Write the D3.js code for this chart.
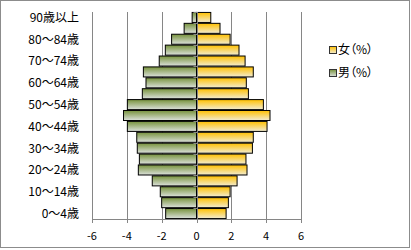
<!DOCTYPE html>
<html>
<head>
<meta charset="utf-8">
<script src="https://cdn.jsdelivr.net/npm/d3@7"></script>
<style>
  html, body { margin: 0; padding: 0; background: #fff; }
  svg { display: block; font-family: "Noto Sans CJK JP", "Noto Sans", sans-serif; }
</style>
</head>
<body>
<svg id="chart" width="411" height="250" viewBox="0 0 411 250"></svg>
<script>
// age groups, bottom to top
const ageGroups = ["0～4歳", "5～9歳", "10～14歳", "15～19歳", "20～24歳", "25～29歳",
  "30～34歳", "35～39歳", "40～44歳", "45～49歳", "50～54歳", "55～59歳", "60～64歳",
  "65～69歳", "70～74歳", "75～79歳", "80～84歳", "85～89歳", "90歳以上"];
const malePct = [-1.77, -2.00, -2.08, -2.54, -3.34, -3.28, -3.40, -3.43, -3.97, -4.19,
  -3.97, -3.11, -2.90, -3.05, -2.14, -1.79, -1.43, -0.71, -0.25];
const femalePct = [1.70, 1.83, 1.93, 2.33, 2.90, 2.84, 3.21, 3.26, 4.05, 4.22,
  3.84, 2.98, 2.86, 3.26, 2.79, 2.44, 1.93, 1.35, 0.82];
const xTicks = [-6, -4, -2, 0, 2, 4, 6];
const seriesNames = ["女（%）", "男（%）"];

const svg = d3.select("#chart");
const gridColor = "#868686";

const x = d3.scaleLinear().domain([-6, 6]).range([92, 301]);
const y = d3.scaleBand().domain(ageGroups).range([219, 12]).paddingInner(0.08).paddingOuter(0.04);
const px = (v) => Math.round(x(v)) + 0.5;

// gradients
const defs = svg.append("defs");
function grad(id, top, bottom) {
  const g = defs.append("linearGradient").attr("id", id)
    .attr("x1", 0).attr("y1", 0).attr("x2", 0).attr("y2", 1);
  g.append("stop").attr("offset", "0%").attr("stop-color", top);
  g.append("stop").attr("offset", "100%").attr("stop-color", bottom);
}
grad("gFemale", "#FFC000", "#F2ECD2");
grad("gMale", "#77923C", "#DCE1DC");

// outer border
svg.append("rect")
  .attr("x", 0.5).attr("y", 0.5).attr("width", 409).attr("height", 247)
  .attr("fill", "#fff").attr("stroke", "#8c8c8c");

// vertical gridlines
svg.append("g").selectAll("line")
  .data(xTicks.filter((d) => d !== 0))
  .join("line")
  .attr("x1", px).attr("x2", px)
  .attr("y1", 12).attr("y2", 219)
  .attr("stroke", gridColor);

// bars
const rows = ageGroups.map((a, i) => ({ age: a, m: malePct[i], f: femalePct[i] }));
const bars = svg.append("g");
bars.selectAll(".male").data(rows).join("rect")
  .attr("class", "male")
  .attr("x", (d) => x(d.m))
  .attr("y", (d) => y(d.age))
  .attr("width", (d) => x(0) - x(d.m))
  .attr("height", y.bandwidth())
  .attr("fill", "url(#gMale)")
  .attr("stroke", "#000").attr("stroke-width", 1);
bars.selectAll(".female").data(rows).join("rect")
  .attr("class", "female")
  .attr("x", x(0))
  .attr("y", (d) => y(d.age))
  .attr("width", (d) => x(d.f) - x(0))
  .attr("height", y.bandwidth())
  .attr("fill", "url(#gFemale)")
  .attr("stroke", "#000").attr("stroke-width", 1);

// vertical axis at zero with small ticks at category boundaries
const zeroX = px(0);
svg.append("line")
  .attr("x1", zeroX).attr("x2", zeroX).attr("y1", 12).attr("y2", 219)
  .attr("stroke", gridColor);
const step = y.step();
svg.append("g").selectAll("line")
  .data(d3.range(ageGroups.length + 1))
  .join("line")
  .attr("x1", zeroX - 4).attr("x2", zeroX)
  .attr("y1", (i) => Math.round(219 - i * step) + 0.5)
  .attr("y2", (i) => Math.round(219 - i * step) + 0.5)
  .attr("stroke", gridColor);

// x axis
const xAxis = svg.append("g");
xAxis.append("line")
  .attr("x1", px(-6)).attr("x2", px(6)).attr("y1", 219.5).attr("y2", 219.5)
  .attr("stroke", gridColor);
xAxis.selectAll(".tk").data(xTicks).join("line")
  .attr("class", "tk")
  .attr("x1", px).attr("x2", px).attr("y1", 219).attr("y2", 223)
  .attr("stroke", gridColor);
xAxis.selectAll("text").data(xTicks).join("text")
  .attr("x", (d) => x(d))
  .attr("y", 240)
  .attr("text-anchor", "middle")
  .attr("font-size", 11)
  .attr("fill", "#000")
  .text((d) => d);

// category labels (every other one)
svg.append("g").selectAll("text")
  .data(ageGroups.filter((d, i) => i % 2 === 0))
  .join("text")
  .attr("x", 79)
  .attr("y", (d) => y(d) + y.bandwidth() / 2)
  .attr("dy", "0.36em")
  .attr("text-anchor", "end")
  .attr("font-size", 12)
  .attr("fill", "#000")
  .text((d) => d);

// legend
const legend = svg.append("g");
const legendFills = ["url(#gFemale)", "url(#gMale)"];
seriesNames.forEach((name, i) => {
  const ly = 50 + i * 23;
  legend.append("rect")
    .attr("x", 329.5).attr("y", ly - 3.5).attr("width", 7).attr("height", 7)
    .attr("fill", legendFills[i]).attr("stroke", "#333");
  legend.append("text")
    .attr("x", 338).attr("y", ly)
    .attr("dy", "0.36em")
    .attr("font-size", 12)
    .style("font-feature-settings", "'palt'")
    .attr("fill", "#000")
    .text(name);
});
</script>
</body>
</html>
